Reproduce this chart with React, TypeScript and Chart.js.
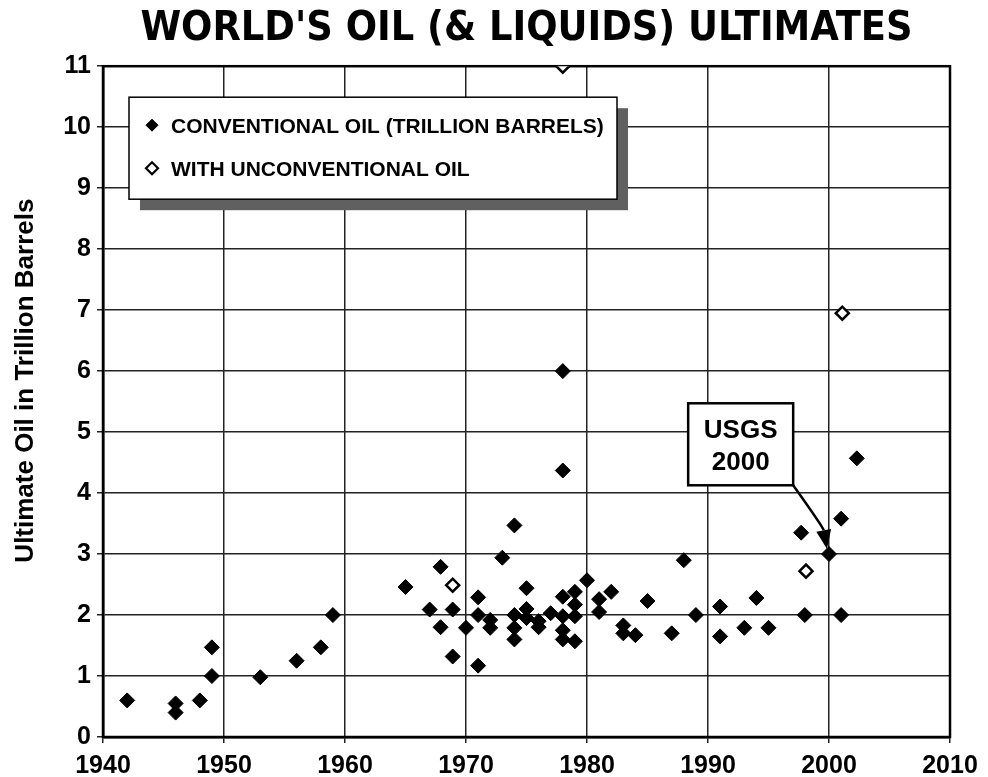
import React, { useEffect, useRef } from 'react';
import { Chart, registerables } from 'chart.js';

Chart.register(...registerables);

const FONT = "'Liberation Sans', Arial, Helvetica, sans-serif";
const TITLE_FONT = "'DejaVu Sans Condensed', 'DejaVu Sans', sans-serif";

const TITLE = "WORLD'S OIL (& LIQUIDS) ULTIMATES";
const Y_TITLE = 'Ultimate Oil in Trillion Barrels';
const CONV_LABEL = 'CONVENTIONAL OIL (TRILLION BARRELS)';
const UNCONV_LABEL = 'WITH UNCONVENTIONAL OIL';
const NOTE_LINES = ['USGS', '2000'];

const X_TICKS = [1940, 1950, 1960, 1970, 1980, 1990, 2000, 2010];
const Y_TICKS = [0, 1, 2, 3, 4, 5, 6, 7, 8, 9, 10, 11];

const convYears = [
  1942, 1946, 1946, 1948, 1949, 1949, 1953, 1956, 1958, 1959,
  1965, 1967, 1967.9, 1967.9, 1968.9, 1968.9, 1970, 1971, 1971, 1971,
  1972, 1972, 1973, 1974, 1974, 1974, 1974, 1975, 1975, 1975,
  1976, 1976, 1977, 1978, 1978, 1978, 1978, 1978, 1978, 1979,
  1979, 1979, 1979, 1980, 1981, 1981, 1982, 1983, 1983, 1984,
  1985, 1987, 1988, 1989, 1991, 1991, 1993, 1994, 1995, 1997.7,
  1998, 2000, 2001, 2001, 2002.3,
];
const convValues = [
  0.6, 0.55, 0.4, 0.6, 1.0, 1.47, 0.98, 1.25, 1.47, 2.0,
  2.46, 2.09, 2.79, 1.8, 2.09, 1.32, 1.79, 2.29, 2.0, 1.17,
  1.92, 1.79, 2.94, 3.47, 2.0, 1.79, 1.6, 2.44, 2.1, 1.95,
  1.9, 1.8, 2.03, 2.3, 1.98, 1.75, 1.6, 6.0, 4.37, 2.38,
  2.17, 1.98, 1.57, 2.57, 2.26, 2.05, 2.38, 1.83, 1.7, 1.67,
  2.23, 1.7, 2.9, 2.0, 2.14, 1.65, 1.79, 2.28, 1.79, 3.35,
  2.0, 3.0, 3.58, 2.0, 4.57,
];

const unconvYears = [1968.9, 1978, 1998.1, 2001.1];
const unconvValues = [2.49, 11, 2.72, 6.95];

const NOTE_TARGET = { x: 2000, y: 3.0 };
const NOTE_CENTER = { x: 1992.7, y: 4.8 };

function diamond(ctx: CanvasRenderingContext2D, x: number, y: number, r: number) {
  ctx.beginPath();
  ctx.moveTo(x, y - r);
  ctx.lineTo(x + r, y);
  ctx.lineTo(x, y + r);
  ctx.lineTo(x - r, y);
  ctx.closePath();
}

const overlayPlugin = {
  id: 'overlay',
  beforeDatasetsDraw(chart: any) {
    const { ctx, chartArea: a } = chart;
    ctx.save();
    ctx.strokeStyle = '#000';
    ctx.lineWidth = 2.5;
    ctx.strokeRect(a.left, a.top, a.right - a.left, a.bottom - a.top);
    ctx.restore();
  },
  afterDraw(chart: any) {
    const { ctx, chartArea: a, scales } = chart;
    const xs = scales.x;
    const ys = scales.y;
    ctx.save();

    // y-axis title
    ctx.save();
    ctx.translate(26, (a.top + a.bottom) / 2 - 21);
    ctx.rotate(-Math.PI / 2);
    ctx.fillStyle = '#000';
    ctx.font = `bold 26px ${FONT}`;
    ctx.textAlign = 'center';
    ctx.textBaseline = 'middle';
    ctx.fillText(Y_TITLE, 0, 0);
    ctx.restore();

    // legend box with shadow
    const lx = a.left + 26;
    const ly = a.top + 31;
    const lw = 488;
    const lh = 102;
    ctx.fillStyle = '#606060';
    ctx.fillRect(lx + 11, ly + 11, lw, lh);
    ctx.fillStyle = '#fff';
    ctx.fillRect(lx, ly, lw, lh);
    ctx.strokeStyle = '#000';
    ctx.lineWidth = 1.5;
    ctx.strokeRect(lx, ly, lw, lh);

    const ds = chart.data.datasets;
    const rows = [ly + 28, ly + 71];
    ds.forEach((d: any, i: number) => {
      const my = rows[i];
      const mx = lx + 23;
      diamond(ctx, mx, my, 6);
      ctx.fillStyle = d.backgroundColor;
      ctx.fill();
      ctx.strokeStyle = '#000';
      ctx.lineWidth = i === 0 ? 1 : 2.2;
      ctx.stroke();
      ctx.fillStyle = '#000';
      ctx.font = `bold 21px ${FONT}`;
      ctx.textAlign = 'left';
      ctx.textBaseline = 'middle';
      ctx.fillText(d.label, lx + 42, my + 2);
    });

    // note box
    const cx = xs.getPixelForValue(NOTE_CENTER.x);
    const cy = ys.getPixelForValue(NOTE_CENTER.y);
    const bw = 105;
    const bh = 82;
    const bx = cx - bw / 2;
    const by = cy - bh / 2;
    ctx.fillStyle = '#fff';
    ctx.fillRect(bx, by, bw, bh);
    ctx.strokeStyle = '#000';
    ctx.lineWidth = 2.5;
    ctx.strokeRect(bx, by, bw, bh);
    ctx.fillStyle = '#000';
    ctx.font = `bold 26px ${FONT}`;
    ctx.textAlign = 'center';
    ctx.textBaseline = 'middle';
    ctx.fillText(NOTE_LINES[0], cx, cy - 13);
    ctx.fillText(NOTE_LINES[1], cx, cy + 19);

    // arrow
    const tx = xs.getPixelForValue(NOTE_TARGET.x) - 2;
    const ty = ys.getPixelForValue(NOTE_TARGET.y) - 5;
    const sx = bx + bw;
    const sy = by + bh;
    const c1x = sx + 30;
    const c1y = sy + 42;
    let dx = tx - c1x;
    let dy = ty - c1y;
    const len = Math.hypot(dx, dy);
    dx /= len;
    dy /= len;
    const hl = 19;
    const hw = 7.5;
    const baseX = tx - dx * hl;
    const baseY = ty - dy * hl;
    ctx.beginPath();
    ctx.moveTo(sx, sy);
    ctx.quadraticCurveTo(c1x, c1y, baseX, baseY);
    ctx.lineWidth = 2.5;
    ctx.stroke();
    ctx.beginPath();
    ctx.moveTo(tx, ty);
    ctx.lineTo(baseX - dy * hw, baseY + dx * hw);
    ctx.lineTo(baseX + dy * hw, baseY - dx * hw);
    ctx.closePath();
    ctx.fill();

    ctx.restore();
  },
};

export default function App() {
  const ref = useRef<HTMLCanvasElement | null>(null);

  useEffect(() => {
    if (!ref.current) return;
    Chart.defaults.font.family = FONT;
    const chart = new Chart(ref.current, {
      type: 'scatter',
      data: {
        datasets: [
          {
            label: CONV_LABEL,
            data: convYears.map((x, i) => ({ x, y: convValues[i] })),
            pointStyle: 'rectRot',
            pointRadius: 7.5,
            backgroundColor: '#000',
            borderColor: '#000',
            borderWidth: 1,
          },
          {
            label: UNCONV_LABEL,
            data: unconvYears.map((x, i) => ({ x, y: unconvValues[i] })),
            pointStyle: 'rectRot',
            pointRadius: 6.5,
            backgroundColor: '#fff',
            borderColor: '#000',
            borderWidth: 2.5,
          },
        ],
      },
      options: {
        responsive: false,
        animation: false,
        events: [],
        layout: { padding: { left: 0, right: 38, top: 0, bottom: 0 } },
        plugins: {
          legend: { display: false },
          tooltip: { enabled: false },
          title: {
            display: true,
            text: TITLE,
            fullSize: false,
            color: '#000',
            font: { size: 41, weight: 'bold', family: TITLE_FONT },
            padding: { top: 5, bottom: 12 },
          },
        },
        scales: {
          x: {
            type: 'linear',
            min: X_TICKS[0],
            max: X_TICKS[X_TICKS.length - 1],
            afterBuildTicks: (s: any) => {
              s.ticks = X_TICKS.map((v) => ({ value: v }));
            },
            afterFit: (s: any) => {
              s.height = 40;
            },
            ticks: {
              color: '#000',
              font: { size: 25, weight: 'bold', family: FONT },
              padding: 8,
              maxRotation: 0,
              callback: (v: any) => String(v),
            },
            grid: { color: '#222', lineWidth: 1.5, tickLength: 6 },
            border: { color: '#000', width: 2.5 },
          },
          y: {
            min: Y_TICKS[0],
            max: Y_TICKS[Y_TICKS.length - 1],
            afterBuildTicks: (s: any) => {
              s.ticks = Y_TICKS.map((v) => ({ value: v }));
            },
            afterFit: (s: any) => {
              s.width = 103;
            },
            ticks: {
              color: '#000',
              font: { size: 25, weight: 'bold', family: FONT },
              padding: 6,
              callback: (v: any) => String(v),
            },
            grid: { color: '#222', lineWidth: 1.5, tickLength: 6 },
            border: { color: '#000', width: 2.5 },
          },
        },
      },
      plugins: [overlayPlugin],
    });
    return () => chart.destroy();
  }, []);

  return (
    <div style={{ position: 'absolute', left: 0, top: 0, width: 988, height: 777, background: '#fff' }}>
      <canvas ref={ref} width={988} height={777} />
    </div>
  );
}
